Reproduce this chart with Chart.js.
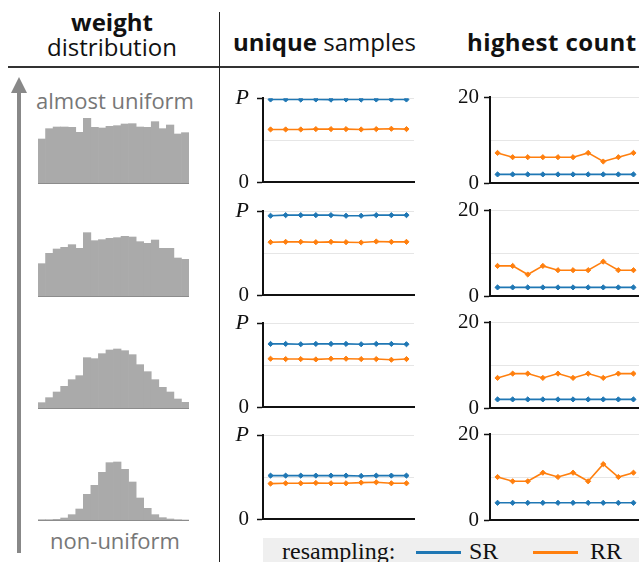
<!DOCTYPE html>
<html>
<head>
<meta charset="utf-8">
<script src="https://cdn.jsdelivr.net/npm/chart.js@4.4.0/dist/chart.umd.min.js"></script>
<style>
  html, body { margin: 0; padding: 0; background: #fff; width: 639px; height: 562px; overflow: hidden; }
  #fig { position: relative; width: 639px; height: 562px; overflow: hidden; font-family: 'Open Sans', sans-serif; color: #111; }
  #fig div, #fig canvas, #fig svg { position: absolute; }
  .head { font-size: 24px; line-height: 28px; white-space: nowrap; }
  .head b { font-weight: 700; }
  .rowlab { font-size: 22px; color: #777; white-space: nowrap; text-align: center; line-height: 26px; }
  .leg { font-family: 'Liberation Serif', serif; font-size: 24px; line-height: 26px; white-space: nowrap; }
</style>
</head>
<body>
<div id="fig">
  <!-- header -->
  <div class="head" style="left:0; width:224px; top:8px; text-align:center;"><b>weight</b></div>
  <div class="head" style="left:0; width:224px; top:33px; text-align:center;">distribution</div>
  <div class="head" style="left:233px; top:28px;"><b>unique</b> samples</div>
  <div class="head" style="left:467px; top:28px; letter-spacing:0.4px;"><b>highest count</b></div>
  <div style="left:8px; top:66px; width:631px; height:1.5px; background:#333;"></div>
  <div style="left:218.5px; top:12px; width:1.5px; height:550px; background:#222;"></div>

  <!-- arrow -->
  <svg width="40" height="562" style="left:0; top:0;">
    <rect x="17" y="90" width="4" height="463" fill="#888"></rect>
    <polygon points="11,93 19,77 27,93" fill="#888"></polygon>
  </svg>
  <div class="rowlab" style="left:16px; width:198px; top:87px;">almost uniform</div>
  <div class="rowlab" style="left:16px; width:198px; top:527px;">non-uniform</div>

  <canvas id="h0" width="151" height="71" style="left:38px; top:113px;"></canvas>
  <canvas id="h1" width="151" height="71" style="left:38px; top:226px;"></canvas>
  <canvas id="h2" width="151" height="71" style="left:38px; top:338px;"></canvas>
  <canvas id="h3" width="151" height="71" style="left:38px; top:450px;"></canvas>

  <canvas id="u0" width="196" height="126" style="left:223px; top:77px;"></canvas>
  <canvas id="u1" width="196" height="126" style="left:223px; top:190px;"></canvas>
  <canvas id="u2" width="196" height="126" style="left:223px; top:302px;"></canvas>
  <canvas id="u3" width="196" height="126" style="left:223px; top:414px;"></canvas>

  <canvas id="c0" width="196" height="126" style="left:450px; top:77px;"></canvas>
  <canvas id="c1" width="196" height="126" style="left:450px; top:190px;"></canvas>
  <canvas id="c2" width="196" height="126" style="left:450px; top:302px;"></canvas>
  <canvas id="c3" width="196" height="126" style="left:450px; top:414px;"></canvas>

  <!-- legend -->
  <div style="left:263px; top:538px; width:376px; height:30px; background:#efefef;"></div>
  <div class="leg" style="left:282px; top:538px;">resampling:</div>
  <div style="left:416px; top:551px; width:45px; height:3px; background:#1f77b4;"></div>
  <div class="leg" style="left:469px; top:538px;">SR</div>
  <div style="left:533px; top:551px; width:45px; height:3px; background:#ff7f0e;"></div>
  <div class="leg" style="left:590px; top:538px;">RR</div>
</div>

<script>
// ===== data =====
const runs = ['1', '2', '3', '4', '5', '6', '7', '8', '9', '10'];

// histogram bins (20 weights each), almost uniform -> non-uniform
const histUniform = [132, 163, 168, 168, 167, 152, 194, 167, 165, 170, 172, 177, 178, 168, 167, 184, 163, 174, 147, 151];
const histFlat = [97, 128, 141, 146, 154, 143, 190, 166, 169, 173, 175, 179, 177, 163, 158, 168, 143, 143, 114, 110];
const histWide = [16, 31, 48, 65, 85, 97, 151, 148, 163, 174, 177, 172, 160, 130, 109, 85, 62, 48, 27, 17];
const histPeaked = [1, 1, 2, 6, 16, 33, 77, 104, 143, 172, 174, 152, 114, 66, 35, 16, 7, 3, 1, 0];

// unique samples, as a fraction of P
const uniqueSR1 = [0.985, 0.985, 0.984, 0.985, 0.983, 0.985, 0.984, 0.985, 0.985, 0.985];
const uniqueRR1 = [0.629, 0.629, 0.629, 0.633, 0.633, 0.633, 0.629, 0.633, 0.637, 0.633];
const uniqueSR2 = [0.946, 0.953, 0.953, 0.953, 0.953, 0.946, 0.946, 0.953, 0.953, 0.953];
const uniqueRR2 = [0.632, 0.636, 0.636, 0.632, 0.636, 0.632, 0.628, 0.640, 0.636, 0.636];
const uniqueSR3 = [0.754, 0.754, 0.750, 0.754, 0.754, 0.754, 0.750, 0.754, 0.754, 0.750];
const uniqueRR3 = [0.578, 0.574, 0.574, 0.570, 0.578, 0.578, 0.574, 0.574, 0.566, 0.574];
const uniqueSR4 = [0.520, 0.520, 0.520, 0.520, 0.520, 0.520, 0.516, 0.520, 0.520, 0.520];
const uniqueRR4 = [0.425, 0.429, 0.429, 0.433, 0.429, 0.429, 0.437, 0.441, 0.429, 0.429];

// highest count of a single sample
const countSR1 = [2, 2, 2, 2, 2, 2, 2, 2, 2, 2];
const countRR1 = [7, 6, 6, 6, 6, 6, 7, 5, 6, 7];
const countSR2 = [2, 2, 2, 2, 2, 2, 2, 2, 2, 2];
const countRR2 = [7, 7, 5, 7, 6, 6, 6, 8, 6, 6];
const countSR3 = [2, 2, 2, 2, 2, 2, 2, 2, 2, 2];
const countRR3 = [7, 8, 8, 7, 8, 7, 8, 7, 8, 8];
const countSR4 = [4, 4, 4, 4, 4, 4, 4, 4, 4, 4];
const countRR4 = [10, 9, 9, 11, 10, 11, 9, 13, 10, 11];

const colors = { sr: '#1f77b4', rr: '#ff7f0e', hist: '#aaaaaa', grid: '#e6e6e6', ink: '#111' };

function series(label, data, color) {
    return {
        label,
        data,
        borderColor: color,
        backgroundColor: color,
        borderWidth: 1.6,
        pointStyle: 'rectRot',
        pointRadius: 2.6,
        pointBorderWidth: 1,
        tension: 0,
    };
}

function lineChart(id, sr, rr, yMax, topLabel, labelPad) {
    return new Chart(document.getElementById(id), {
        type: 'line',
        data: { labels: runs, datasets: [series('SR', sr, colors.sr), series('RR', rr, colors.rr)] },
        options: {
            responsive: false,
            animation: false,
            // the y tick labels reserve up to 20px above and below the plot area
            layout: { padding: { top: 20, right: 4, bottom: 20, left: 0 } },
            plugins: { legend: { display: false }, tooltip: { enabled: false } },
            scales: {
                x: {
                    offset: true,
                    ticks: { display: false },
                    grid: { display: false, drawTicks: false },
                    border: { color: colors.ink, width: 2 },
                    afterFit: (s) => { s.height = 0; },
                },
                y: {
                    min: 0,
                    max: yMax,
                    ticks: {
                        stepSize: yMax / 2,
                        padding: labelPad,
                        color: colors.ink,
                        callback: (v) => v === 0 ? '0' : (v === yMax ? topLabel : ''),
                        font: (ctx) => {
                            const isP = ctx.tick && ctx.tick.value === yMax && topLabel === 'P';
                            return { family: "'Liberation Serif', serif", size: isP ? 22 : 21, style: isP ? 'italic' : 'normal' };
                        },
                    },
                    grid: {
                        color: (ctx) => ctx.tick.value === 0 ? 'rgba(0,0,0,0)' : colors.grid,
                        tickColor: (ctx) => ctx.tick.value === yMax / 2 ? 'rgba(0,0,0,0)' : colors.ink,
                        tickLength: 6,
                        tickWidth: 1.5,
                    },
                    border: { color: colors.ink, width: 2 },
                    afterFit: (s) => { s.width = 40; },
                },
            },
        },
    });
}

function histChart(id, bins) {
    return new Chart(document.getElementById(id), {
        type: 'bar',
        data: {
            labels: bins.map((_, i) => i + 1),
            datasets: [{ data: bins, backgroundColor: colors.hist, borderWidth: 0, barPercentage: 1, categoryPercentage: 1 }],
        },
        options: {
            responsive: false,
            animation: false,
            layout: { padding: { bottom: 1 } },
            plugins: { legend: { display: false }, tooltip: { enabled: false } },
            scales: {
                x: {
                    ticks: { display: false },
                    grid: { display: false, drawTicks: false },
                    border: { color: '#8c8c8c', width: 1 },
                    afterFit: (s) => { s.height = 0; },
                },
                y: { display: false, min: 0, max: 210 },
            },
        },
    });
}

histChart('h0', histUniform);
histChart('h1', histFlat);
histChart('h2', histWide);
histChart('h3', histPeaked);

lineChart('u0', uniqueSR1, uniqueRR1, 1, 'P', 8);
lineChart('u1', uniqueSR2, uniqueRR2, 1, 'P', 8);
lineChart('u2', uniqueSR3, uniqueRR3, 1, 'P', 8);
lineChart('u3', uniqueSR4, uniqueRR4, 1, 'P', 8);

lineChart('c0', countSR1, countRR1, 20, '20', 5);
lineChart('c1', countSR2, countRR2, 20, '20', 5);
lineChart('c2', countSR3, countRR3, 20, '20', 5);
lineChart('c3', countSR4, countRR4, 20, '20', 5);
</script>
</body>
</html>
